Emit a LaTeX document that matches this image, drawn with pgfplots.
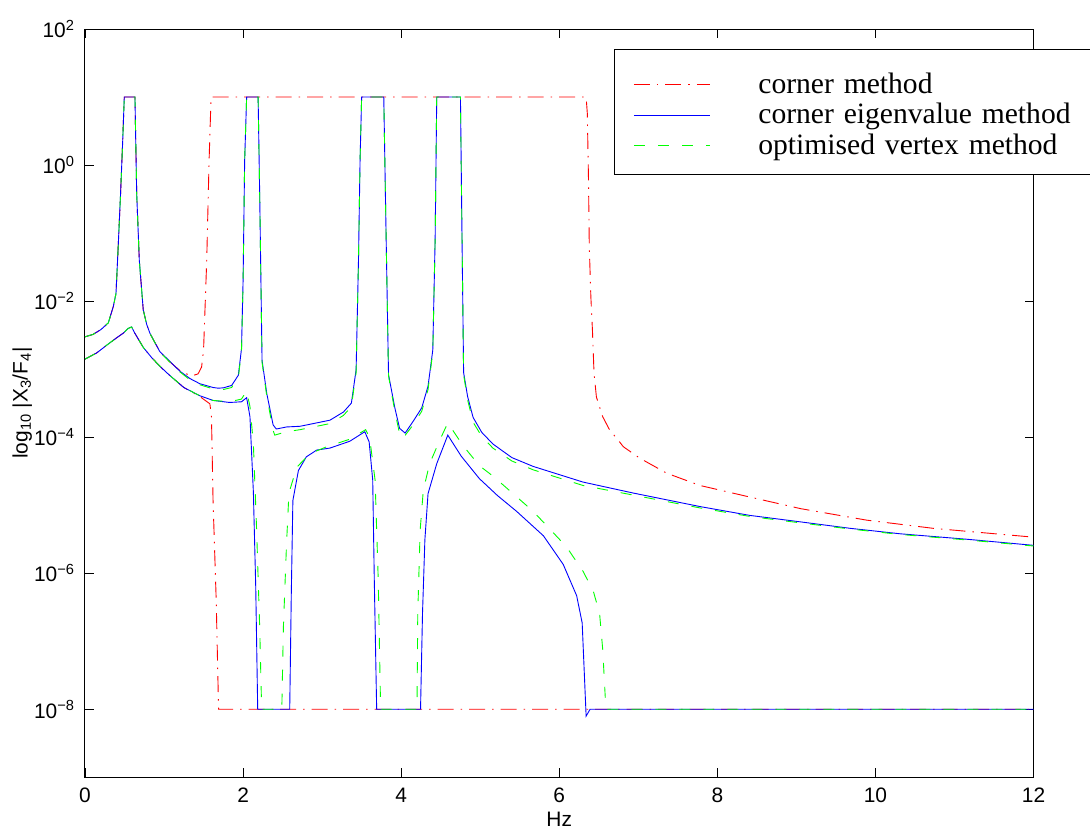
\documentclass[border=0pt]{standalone}
\usepackage{fontspec}
\setmainfont{Liberation Sans}
\newfontfamily\legfont{Liberation Serif}
\usepackage{pgfplots}
\pgfplotsset{compat=1.18}
\definecolor{mred}{rgb}{1,0,0}
\definecolor{mblue}{rgb}{0,0,1}
\definecolor{mgreen}{rgb}{0,1,0}
\begin{document}
\begin{tikzpicture}
\useasboundingbox (-85bp,-60.7bp) rectangle (1005bp,777.3bp);
\begin{axis}[
  at={(0,0)}, anchor=south west,
  scale only axis, width=948.5bp, height=748.3bp,
  xmin=0, xmax=12, ymin=-9, ymax=2,
  xtick={0,2,4,6,8,10,12},
  ytick={-8,-6,-4,-2,0,2},
  yticklabels={10\textsuperscript{−8},10\textsuperscript{−6},10\textsuperscript{−4},10\textsuperscript{−2},10\textsuperscript{0},10\textsuperscript{2}},
  /pgf/number format/assume math mode=true,
  tick label style={font=\fontsize{21}{24}\selectfont},
  xticklabel style={yshift=-7bp},
  yticklabel style={xshift=-7bp},
  label style={font=\fontsize{21}{24}\selectfont},
  xlabel={Hz},
  xlabel style={yshift=-3bp},
  ylabel={log\textsubscript{10} |X\textsubscript{3}/F\textsubscript{4}|},
  ylabel style={yshift=-5bp},
  tick align=inside,
  major tick length=9bp,
  every tick/.style={black, line width=0.8bp},
  axis line style={line width=1bp},
  legend style={
    at={(rel axis cs:0.5577,0.9733)}, anchor=north west,
    draw=black, line width=1bp, fill=white,
    font=\legfont\fontsize{29.7}{31}\selectfont,
    inner xsep=19bp, inner ysep=17bp,
    row sep=0bp,
    nodes={inner sep=0bp, text height=27bp, text depth=3.5bp},
    /tikz/every odd column/.append style={column sep=48bp},
    /tikz/every even column/.append style={text width=340bp},
  },
  legend cell align=left,
  legend image code/.code={\draw[#1] (0bp,-3bp) -- (76bp,-3bp);},
]
% corner method (red, dash-dot): upper and lower
\addplot[mred, line width=0.9bp, dash pattern=on 16bp off 7bp on 1.5bp off 7bp] coordinates {
(0,-2.525) (0.10,-2.49) (0.20,-2.42) (0.295,-2.32) (0.358,-2.08) (0.392,-1.89) (0.42,-1.2) (0.45,-0.42) (0.476,0.32) (0.497,1.0)
(0.632,1.0) (0.654,-0.42) (0.687,-1.40) (0.737,-2.13) (0.78,-2.34) (0.822,-2.475) (0.948,-2.745) (1.06,-2.88)
(1.22,-3.04) (1.35,-3.10) (1.43,-3.07) (1.475,-2.97) (1.50,-2.72) (1.54,-1.40) (1.57,0.07) (1.595,1.0)
(6.34,1.0) (6.355,0.76) (6.37,-0.22) (6.38,-1.20) (6.40,-1.94) (6.42,-2.43) (6.44,-3.06) (6.47,-3.41)
(6.55,-3.70) (6.64,-3.90) (6.73,-4.02) (6.81,-4.14) (7.02,-4.31) (7.36,-4.53) (7.78,-4.71) (8.41,-4.88)
(9.05,-5.05) (9.89,-5.22) (10.73,-5.34) (12,-5.47)
};
\addlegendentry{corner method}
\addplot[mred, line width=0.9bp, dash pattern=on 16bp off 7bp on 1.5bp off 7bp, forget plot] coordinates {
(0,-2.853) (0.15,-2.76) (0.295,-2.63) (0.40,-2.54) (0.485,-2.47) (0.548,-2.40) (0.59,-2.38) (0.632,-2.475)
(0.737,-2.68) (0.843,-2.83) (0.95,-2.96) (1.06,-3.08) (1.25,-3.27) (1.45,-3.40) (1.58,-3.51)
(1.60,-3.70) (1.62,-4.93) (1.66,-6.40) (1.69,-8.0) (12,-8.0)
};
% corner eigenvalue method (blue, solid)
\addplot[mblue, line width=0.9bp] coordinates {
(0,-2.525) (0.10,-2.49) (0.20,-2.42) (0.295,-2.32) (0.358,-2.08) (0.392,-1.89) (0.42,-1.2) (0.45,-0.42) (0.476,0.32) (0.497,1.0)
(0.632,1.0) (0.654,-0.42) (0.687,-1.40) (0.737,-2.13) (0.78,-2.34) (0.822,-2.475) (0.948,-2.745) (1.06,-2.87)
(1.2,-3.03) (1.33,-3.14) (1.454,-3.215) (1.62,-3.27) (1.686,-3.28) (1.75,-3.275) (1.855,-3.24) (1.94,-3.09)
(1.98,-2.70) (2.0,-1.70) (2.02,0.07) (2.045,1.0) (2.19,1.0) (2.21,-0.42) (2.24,-2.87) (2.30,-3.36)
(2.38,-3.82) (2.42,-3.88) (2.55,-3.85) (2.72,-3.84) (2.89,-3.80) (3.10,-3.75) (3.27,-3.63) (3.37,-3.50)
(3.43,-3.01) (3.46,-1.40) (3.48,0.07) (3.50,1.0) (3.78,1.0) (3.81,-1.08) (3.84,-3.08) (3.92,-3.57)
(3.98,-3.87) (4.05,-3.94) (4.15,-3.77) (4.26,-3.57) (4.34,-3.25) (4.40,-2.72) (4.43,-1.08) (4.45,1.0)
(4.75,1.0) (4.77,-1.08) (4.79,-3.05) (4.84,-3.40) (4.91,-3.71) (5.02,-3.93) (5.16,-4.10) (5.40,-4.30) (5.67,-4.43) (6.30,-4.66)
(6.93,-4.82) (7.78,-5.02) (8.41,-5.15) (9.05,-5.245) (9.68,-5.34) (10.31,-5.42) (11.15,-5.50) (12,-5.59)
};
\addlegendentry{corner eigenvalue method}
\addplot[mblue, line width=0.9bp, forget plot] coordinates {
(0,-2.853) (0.15,-2.76) (0.295,-2.63) (0.40,-2.54) (0.485,-2.47) (0.548,-2.40) (0.59,-2.38) (0.632,-2.475)
(0.737,-2.68) (0.843,-2.83) (0.95,-2.96) (1.06,-3.08) (1.25,-3.27) (1.45,-3.39) (1.62,-3.46) (1.83,-3.49)
(1.98,-3.48) (2.045,-3.42) (2.087,-3.70) (2.13,-4.80) (2.16,-6.2) (2.185,-8.0) (2.59,-8.0) (2.61,-6.30)
(2.63,-4.93) (2.70,-4.49) (2.80,-4.29) (2.93,-4.19) (3.10,-4.16) (3.35,-4.06) (3.54,-3.92) (3.595,-4.07)
(3.64,-4.63) (3.66,-6.10) (3.69,-8.0) (4.245,-8.0) (4.27,-6.59) (4.30,-5.51) (4.34,-4.83) (4.45,-4.39)
(4.59,-3.97) (4.76,-4.28) (4.99,-4.61) (5.22,-4.86) (5.46,-5.09) (5.80,-5.45) (6.05,-5.87) (6.22,-6.33) (6.29,-6.73)
(6.34,-8.10) (6.39,-8.0) (12,-8.0)
};
% optimised vertex method (green, dashed)
\addplot[mgreen, line width=0.9bp, dash pattern=on 11bp off 13bp] coordinates {
(0,-2.525) (0.10,-2.49) (0.20,-2.42) (0.295,-2.32) (0.358,-2.08) (0.392,-1.89) (0.42,-1.2) (0.45,-0.42) (0.476,0.32) (0.497,1.0)
(0.632,1.0) (0.654,-0.42) (0.687,-1.40) (0.737,-2.13) (0.78,-2.34) (0.822,-2.475) (0.948,-2.75) (1.06,-2.88)
(1.2,-3.04) (1.33,-3.16) (1.454,-3.23) (1.62,-3.29) (1.686,-3.30) (1.75,-3.30) (1.855,-3.27) (1.94,-3.12)
(1.98,-2.74) (2.0,-1.72) (2.02,0.07) (2.045,1.0) (2.19,1.0) (2.21,-0.42) (2.24,-2.90) (2.30,-3.40)
(2.38,-3.90) (2.40,-3.97) (2.55,-3.92) (2.72,-3.89) (2.89,-3.85) (3.10,-3.80) (3.27,-3.68) (3.37,-3.55)
(3.43,-3.05) (3.46,-1.40) (3.48,0.07) (3.50,1.0) (3.78,1.0) (3.81,-1.08) (3.84,-3.10) (3.92,-3.62)
(3.98,-3.95) (4.02,-4.02) (4.15,-3.82) (4.26,-3.62) (4.34,-3.30) (4.40,-2.75) (4.43,-1.08) (4.45,1.0)
(4.75,1.0) (4.77,-1.08) (4.79,-3.08) (4.84,-3.45) (4.91,-3.78) (5.02,-3.99) (5.16,-4.16) (5.40,-4.35) (5.67,-4.48) (6.30,-4.71)
(6.93,-4.85) (7.78,-5.04) (8.41,-5.165) (9.05,-5.26) (9.68,-5.35) (10.31,-5.43) (11.15,-5.51) (12,-5.60)
};
\addlegendentry{optimised vertex method}
\addplot[mgreen, line width=0.9bp, dash pattern=on 11bp off 13bp, forget plot] coordinates {
(0,-2.853) (0.15,-2.76) (0.295,-2.63) (0.40,-2.54) (0.485,-2.47) (0.548,-2.40) (0.59,-2.38) (0.632,-2.475)
(0.737,-2.68) (0.843,-2.83) (0.95,-2.96) (1.06,-3.08) (1.25,-3.27) (1.45,-3.39) (1.62,-3.46) (1.83,-3.48)
(1.98,-3.44) (2.045,-3.32) (2.087,-3.55) (2.13,-4.09) (2.17,-5.32) (2.21,-6.79) (2.235,-8.0) (2.49,-8.0)
(2.51,-6.79) (2.55,-5.56) (2.58,-4.82) (2.68,-4.44) (2.85,-4.24) (3.06,-4.14) (3.35,-4.03) (3.55,-3.89)
(3.60,-4.0) (3.67,-4.63) (3.71,-6.10) (3.74,-8.0) (4.20,-8.0) (4.21,-6.59) (4.24,-5.37) (4.28,-4.78)
(4.36,-4.39) (4.49,-4.04) (4.59,-3.79) (4.78,-4.12) (4.99,-4.42) (5.17,-4.58) (5.67,-5.09) (6.09,-5.61)
(6.30,-5.97) (6.43,-6.26) (6.51,-6.59) (6.55,-7.12) (6.59,-8.0) (12,-8.0)
};
\end{axis}
\end{tikzpicture}
\end{document}
